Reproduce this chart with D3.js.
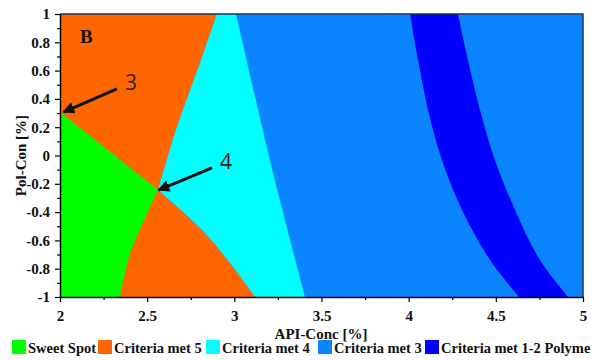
<!DOCTYPE html>
<html>
<head>
<meta charset="utf-8">
<script src="https://cdn.jsdelivr.net/npm/d3@7"></script>
<style>
  body { margin: 0; background: #fff; }
  svg { display: block; }
  .tick text { font-family: "Liberation Serif", "Times New Roman", serif; font-weight: bold; font-size: 15px; fill: #111; }
  .lbl { font-family: "Liberation Serif", "Times New Roman", serif; font-weight: bold; fill: #111; }
</style>
</head>
<body>
<div id="chart"></div>
<script>
// region boundaries (API-Conc, Pol-Con)
const sweetUpper = [[2.0, 0.307], [2.562, -0.244]];
const sweetLower = [[2.562, -0.244], [2.46, -0.52], [2.40, -0.70], [2.344, -1]];
const met4Left = [[2.90, 1], [2.809, 0.675], [2.665, 0.18], [2.562, -0.244]];
const met4Lower = [[2.562, -0.244], [2.815, -0.527], [2.975, -0.76], [3.119, -1]];
const met4Right = [[3.01, 1], [3.19, 0.04], [3.26, -0.31], [3.405, -1]];
const bandLeft = [[4.008, 1], [4.054, 0.675], [4.111, 0.322], [4.191, -0.032], [4.306, -0.385], [4.467, -0.739], [4.633, -1]];
const bandRight = [[4.283, 1], [4.34, 0.675], [4.409, 0.322], [4.495, -0.032], [4.61, -0.385], [4.753, -0.739], [4.914, -1]];

const xTicks = [2, 2.5, 3, 3.5, 4, 4.5, 5];
const xTickLabels = ["2", "2.5", "3", "3.5", "4", "4.5", "5"];
const xMinor = [2.25, 2.75, 3.25, 3.75, 4.25, 4.75];
const yTicks = [-1, -0.8, -0.6, -0.4, -0.2, 0, 0.2, 0.4, 0.6, 0.8, 1];
const yTickLabels = ["-1", "-0.8", "-0.6", "-0.4", "-0.2", "0", "0.2", "0.4", "0.6", "0.8", "1"];
const yMinor = [-0.9, -0.7, -0.5, -0.3, -0.1, 0.1, 0.3, 0.5, 0.7, 0.9];

const legendNames = ["Sweet Spot", "Criteria met 5", "Criteria met 4", "Criteria met 3", "Criteria met 1-2 Polyme"];
const legendColors = ["#00ff00", "#ff6600", "#00ffff", "#0a84ff", "#0000ff"];

// arrows: [tail, tip] in data coords
const notes = [
  { text: "3", tail: [2.327, 0.47], tip: [2.02, 0.307] },
  { text: "4", tail: [2.872, -0.088], tip: [2.565, -0.244] }
];

const W = 600, H = 360;
const margin = { top: 14, right: 17, bottom: 63, left: 60 };
const width = W - margin.left - margin.right;
const height = H - margin.top - margin.bottom;

const svg = d3.select("#chart").append("svg")
  .attr("width", W)
  .attr("height", H);

const x = d3.scaleLinear().domain([2, 5]).range([0, width]);
const y = d3.scaleLinear().domain([-1, 1]).range([height, 0]);

const g = svg.append("g")
  .attr("transform", "translate(" + margin.left + "," + margin.top + ")");

g.append("clipPath").attr("id", "plotclip")
  .append("rect").attr("width", width).attr("height", height);

const curve = d3.line().x(d => x(d[0])).y(d => y(d[1])).curve(d3.curveCatmullRom);
const straight = d3.line().x(d => x(d[0])).y(d => y(d[1]));
// join several boundaries into one closed outline
function outline(parts) {
  return parts.map((p, i) => {
    const s = p.length > 2 ? curve(p) : straight(p);
    return i === 0 ? s : s.replace(/^M/, "L");
  }).join("") + "Z";
}

const plot = g.append("g").attr("clip-path", "url(#plotclip)");

plot.append("rect")
  .attr("width", width).attr("height", height)
  .attr("fill", legendColors[3]);

plot.append("path")
  .attr("d", outline([[[2, 1], [2, 1]], met4Left, met4Lower, [[2, -1], [2, -1]]]))
  .attr("fill", legendColors[1]);

plot.append("path")
  .attr("d", outline([met4Left, met4Lower, met4Right.slice().reverse()]))
  .attr("fill", legendColors[2]);

plot.append("path")
  .attr("d", outline([sweetUpper, sweetLower, [[2, -1], [2, -1]]]))
  .attr("fill", legendColors[0]);

plot.append("path")
  .attr("d", outline([bandLeft, bandRight.slice().reverse()]))
  .attr("fill", legendColors[4]);

// frame top/right
g.append("path")
  .attr("d", "M0,0H" + width + "V" + height)
  .attr("fill", "none")
  .attr("stroke", "#1c3550")
  .attr("stroke-width", 1.5);

// axes
g.append("g")
  .attr("transform", "translate(0," + height + ")")
  .call(d3.axisBottom(x).tickValues(xTicks).tickSize(5).tickSizeOuter(0).tickPadding(8)
    .tickFormat((d, i) => xTickLabels[i]));
g.append("g")
  .attr("transform", "translate(0," + height + ")")
  .call(d3.axisBottom(x).tickValues(xMinor).tickSize(3).tickSizeOuter(0).tickFormat(""))
  .select(".domain").remove();

g.append("g")
  .call(d3.axisLeft(y).tickValues(yTicks).tickSize(5).tickSizeOuter(0).tickPadding(5)
    .tickFormat((d, i) => yTickLabels[i]));
g.append("g")
  .call(d3.axisLeft(y).tickValues(yMinor).tickSize(3).tickSizeOuter(0).tickFormat(""))
  .select(".domain").remove();

g.selectAll(".domain").attr("stroke", "#000").attr("stroke-width", 1.5);
g.selectAll(".tick line").attr("stroke", "#000").attr("stroke-width", 1.2);

// panel letter
g.append("text").attr("class", "lbl")
  .attr("x", 20).attr("y", 29)
  .attr("font-size", 19)
  .attr("fill", "#2b2020")
  .text("B");

// arrows
const defs = svg.append("defs");
defs.append("marker")
  .attr("id", "head")
  .attr("viewBox", "0 0 10 10")
  .attr("refX", 9).attr("refY", 5)
  .attr("markerWidth", 4).attr("markerHeight", 4)
  .attr("orient", "auto")
  .append("path").attr("d", "M0,0L10,5L0,10Z").attr("fill", "#111");

notes.forEach(n => {
  g.append("line")
    .attr("x1", x(n.tail[0])).attr("y1", y(n.tail[1]))
    .attr("x2", x(n.tip[0])).attr("y2", y(n.tip[1]))
    .attr("stroke", "#111")
    .attr("stroke-width", 3)
    .attr("marker-end", "url(#head)");
  g.append("text")
    .attr("x", x(n.tail[0]) + 8).attr("y", y(n.tail[1]) + 1)
    .attr("font-family", "'Open Sans', 'Liberation Sans', sans-serif")
    .attr("font-size", 21)
    .attr("fill", "#2e2418")
    .text(n.text);
});

// axis titles
svg.append("text").attr("class", "lbl")
  .attr("x", 321).attr("y", 339)
  .attr("text-anchor", "middle")
  .attr("font-size", 15)
  .text("API-Conc [%]");

svg.append("text").attr("class", "lbl")
  .attr("transform", "translate(26," + (margin.top + height / 2) + ") rotate(-90)")
  .attr("text-anchor", "middle")
  .attr("font-size", 15)
  .text("Pol-Con [%]");

// legend
const legendX = [12, 98, 206, 318, 425];
const legend = svg.append("g").attr("transform", "translate(0,340)");
legendNames.forEach((name, i) => {
  legend.append("rect")
    .attr("x", legendX[i]).attr("y", 0)
    .attr("width", 14).attr("height", 14)
    .attr("fill", legendColors[i]);
  legend.append("text").attr("class", "lbl")
    .attr("x", legendX[i] + 16).attr("y", 13)
    .attr("font-size", 14.5)
    .text(name);
});
</script>
</body>
</html>
